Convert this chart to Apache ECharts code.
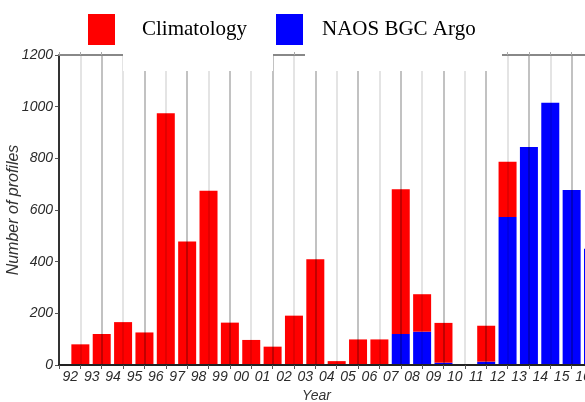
<!DOCTYPE html>
<html>
<head>
<meta charset="utf-8">
<script src="https://cdn.jsdelivr.net/npm/echarts@6/dist/echarts.min.js"></script>
<style>
  html, body { margin: 0; padding: 0; background: #fff; }
  #chart { width: 585px; height: 402px; }
</style>
</head>
<body>
<div id="chart"></div>
<script>
// Profiles per year, 1992-2016
const years = [1992, 1993, 1994, 1995, 1996, 1997, 1998, 1999, 2000, 2001, 2002, 2003, 2004,
               2005, 2006, 2007, 2008, 2009, 2010, 2011, 2012, 2013, 2014, 2015, 2016];
const yearLabels = ['92', '93', '94', '95', '96', '97', '98', '99', '00', '01', '02', '03', '04',
                    '05', '06', '07', '08', '09', '10', '11', '12', '13', '14', '15', '16'];
// Float profiles (bottom of each stack)
const argoProfiles = [0, 0, 0, 0, 0, 0, 0, 0, 0, 0, 0, 0, 0,
                      0, 0, 120, 129, 9, 0, 13, 573, 844, 1015, 677, 450];
// Climatology profiles (stacked on top)
const climProfiles = [80, 120, 166, 126, 975, 478, 675, 164, 97, 71, 191, 409, 15,
                      99, 99, 560, 145, 154, 0, 139, 214, 0, 0, 0, 0];
const yTicks = [0, 200, 400, 600, 800, 1000, 1200];

const seriesNames = ['Climatology', 'NAOS BGC Argo'];

// one empty slot at the axis origin, then one slot per year
const axisCats = [''].concat(yearLabels);
const padSeries = arr => [null].concat(arr);

const axisFont = 'Liberation Sans, Arial, sans-serif';

const chart = echarts.init(document.getElementById('chart'), null, { renderer: 'canvas' });
chart.setOption({
  backgroundColor: '#ffffff',
  animation: false,
  grid: { left: 59, top: 55, width: 534, height: 310, containLabel: false, outerBoundsMode: 'none' },
  legend: {
    left: 88, top: 14, z: 60, padding: 0,
    itemWidth: 27, itemHeight: 31, itemGap: 29,
    icon: 'rect',
    data: [
      { name: seriesNames[0], textStyle: { padding: [0, 0, 10, 22] } },
      { name: seriesNames[1], textStyle: { padding: [0, 0, 10, 14] } }
    ],
    textStyle: { fontFamily: 'Liberation Serif, Times New Roman, serif', fontSize: 21, color: '#000' }
  },
  xAxis: [{
    type: 'category', data: axisCats, boundaryGap: false, z: 3,
    name: 'Year', nameLocation: 'middle', nameGap: 23,
    nameTextStyle: { fontFamily: axisFont, fontStyle: 'italic', fontSize: 14, color: '#333', padding: [0, 19, 0, 0] },
    axisLine: { show: true, lineStyle: { color: '#222', width: 2 } },
    axisTick: { show: true, length: 4, interval: 0, lineStyle: { color: '#555' } },
    axisLabel: {
      interval: 0, margin: 5,
      fontFamily: axisFont, fontStyle: 'italic', fontSize: 14, color: '#2a2a2a',
      padding: [0, 20, 0, 0]
    },
    splitLine: { show: true, interval: 0, lineStyle: { color: ['rgba(0,0,0,0.32)', 'rgba(0,0,0,0.14)'], width: 1.5 } }
  }, {
    type: 'category', data: axisCats, boundaryGap: false, position: 'top', z: 3,
    axisLine: { show: true, lineStyle: { color: '#888', width: 2 } },
    axisTick: { show: true, length: 3, interval: 0, lineStyle: { color: '#aaa' } },
    axisLabel: { show: false },
    splitLine: { show: false }
  }],
  yAxis: {
    type: 'value', min: yTicks[0], max: yTicks[yTicks.length - 1], interval: 200,
    name: 'Number of profiles', nameLocation: 'middle', nameGap: 37, nameMoveOverlap: false,
    nameTextStyle: { fontFamily: axisFont, fontStyle: 'italic', fontSize: 16, color: '#333' },
    axisLine: { show: true, lineStyle: { color: '#444', width: 2 } },
    axisTick: { show: true, length: 4, lineStyle: { color: '#555' } },
    axisLabel: { margin: 6, formatter: v => String(v), fontFamily: axisFont, fontStyle: 'italic', fontSize: 14, color: '#2a2a2a' },
    splitLine: { show: false }
  },
  graphic: [
    { type: 'rect', z: 50, shape: { x: 123, y: 0, width: 150, height: 71 }, style: { fill: '#fff' } },
    { type: 'rect', z: 50, shape: { x: 305, y: 0, width: 197, height: 71 }, style: { fill: '#fff' } }
  ],
  series: [
    {
      name: seriesNames[1], type: 'bar', stack: 'total', barWidth: 18,
      itemStyle: { color: '#0000ff' },
      data: padSeries(argoProfiles)
    },
    {
      name: seriesNames[0], type: 'bar', stack: 'total', barWidth: 18,
      itemStyle: { color: '#ff0000' },
      data: padSeries(climProfiles)
    }
  ]
});
</script>
</body>
</html>
